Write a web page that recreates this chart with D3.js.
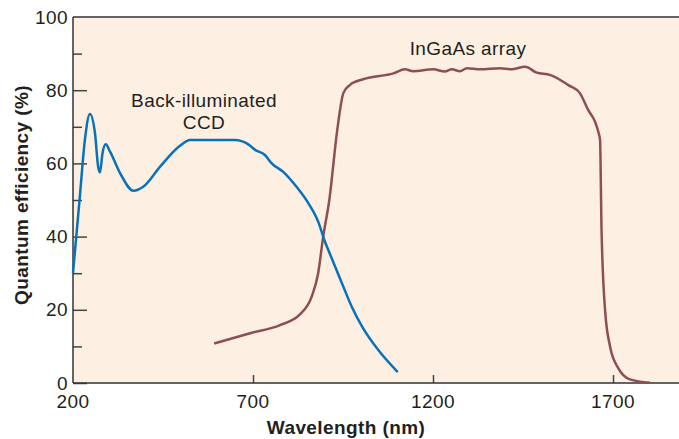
<!DOCTYPE html>
<html lang="en">
<head>
<meta charset="UTF-8">
<title>Quantum efficiency</title>
<style>
  body { margin: 0; background: #fff; }
  text { font-family: "Liberation Sans", Arial, sans-serif; fill: #231f20; letter-spacing: 0.4px; }
</style>
</head>
<body>
<div id="chart"></div>
<script src="https://d3js.org/d3.v7.min.js"></script>
<script>
// Back-illuminated CCD curve (wavelength nm, QE %)
var ccdNm = [200, 219, 233, 247, 261, 270, 275, 282, 291, 303, 331, 368, 395, 442, 497, 525, 650, 687, 706, 733, 752, 784, 821, 854, 881, 900, 914, 951, 974, 1006, 1048, 1102];
var ccdQe = [30, 50.9, 66.4, 73.5, 68.3, 59, 57.5, 62.8, 65.2, 63.2, 57.3, 52.5, 53.6, 59.1, 64.8, 66.4, 66.4, 65.2, 63.7, 62.3, 60, 57.7, 53.6, 49.1, 44.1, 38.6, 35.2, 26.3, 20.9, 14.9, 9, 3];

// InGaAs array curve
var ingaasNm = [592, 692, 775, 831, 863, 881, 895, 912, 934, 951, 969, 1006, 1090, 1122, 1145, 1201, 1233, 1252, 1275, 1294, 1331, 1386, 1418, 1456, 1488, 1525, 1576, 1608, 1631, 1650, 1659, 1664, 1668, 1678, 1692, 1715, 1747, 1803];
var ingaasQe = [10.8, 13.6, 15.8, 18.8, 23.6, 30, 40, 50, 69.1, 79.2, 81.4, 83, 84.6, 85.7, 85.2, 85.7, 85.1, 85.7, 85.2, 86, 85.7, 86, 85.7, 86.4, 84.8, 84.2, 81.4, 79.2, 74.6, 71.4, 68.7, 66.4, 42.7, 19.9, 9.9, 4, 1, 0.1];

var xTicks = [200, 700, 1200, 1700];
var yTicks = [0, 20, 40, 60, 80, 100];
var yMinor = [10, 30, 50, 70, 90];

var W = 679, H = 439;
var plot = {left: 73, right: 679, top: 17, bottom: 383};

var svg = d3.select("#chart").append("svg")
    .attr("width", W).attr("height", H);

var x = d3.scaleLinear().domain([200, 200 + (plot.right - plot.left) / 0.36]).range([plot.left, plot.right]);
var y = d3.scaleLinear().domain([0, 100]).range([plot.bottom, plot.top]);

// plot background
svg.append("rect")
    .attr("x", plot.left).attr("y", plot.top)
    .attr("width", plot.right - plot.left).attr("height", plot.bottom - plot.top)
    .attr("fill", "#fdf0e2");

// top border
svg.append("line")
    .attr("x1", plot.left).attr("x2", plot.right).attr("y1", plot.top).attr("y2", plot.top)
    .attr("stroke", "#333").attr("stroke-width", 1.5);

// y axis (ticks point inward)
var yAxis = svg.append("g")
    .attr("transform", "translate(" + plot.left + ",0)")
    .call(d3.axisRight(y).tickValues(yTicks.filter(d => d < 100)).tickSize(14).tickFormat(""));
yAxis.select(".domain").remove();
yAxis.selectAll("line").attr("stroke", "#444").attr("stroke-width", 1.5);

var yMin = svg.append("g")
    .attr("transform", "translate(" + plot.left + ",0)")
    .call(d3.axisRight(y).tickValues(yMinor).tickSize(9).tickFormat(""));
yMin.select(".domain").remove();
yMin.selectAll("line").attr("stroke", "#444").attr("stroke-width", 1.5);

svg.selectAll(".ylab").data(yTicks).enter().append("text")
    .attr("x", plot.left - 5).attr("y", d => y(d))
    .attr("dy", "0.35em").attr("text-anchor", "end")
    .attr("font-size", 19).text(d => d);

// x axis (ticks point up)
var xAxis = svg.append("g")
    .attr("transform", "translate(0," + plot.bottom + ")")
    .call(d3.axisTop(x).tickValues(xTicks.slice(1)).tickSize(8).tickFormat(""));
xAxis.select(".domain").remove();
xAxis.selectAll("line").attr("stroke", "#444").attr("stroke-width", 1.5);

svg.selectAll(".xlab").data(xTicks).enter().append("text")
    .attr("x", d => x(d)).attr("y", plot.bottom + 18)
    .attr("dy", "0.35em").attr("text-anchor", "middle")
    .attr("font-size", 19).text(d => d);

// axis lines
svg.append("line")
    .attr("x1", plot.left).attr("x2", plot.left).attr("y1", plot.top).attr("y2", plot.bottom)
    .attr("stroke", "#333").attr("stroke-width", 1.5);
svg.append("line")
    .attr("x1", plot.left).attr("x2", plot.right).attr("y1", plot.bottom).attr("y2", plot.bottom)
    .attr("stroke", "#333").attr("stroke-width", 1.5);

// curves
var line = d3.line()
    .x(d => x(d[0])).y(d => y(d[1]))
    .curve(d3.curveMonotoneX);

svg.append("path")
    .datum(d3.zip(ingaasNm, ingaasQe))
    .attr("d", line)
    .attr("fill", "none").attr("stroke", "#8e4f51").attr("stroke-width", 2.5);

svg.append("path")
    .datum(d3.zip(ccdNm, ccdQe))
    .attr("d", line)
    .attr("fill", "none").attr("stroke", "#0871bb").attr("stroke-width", 2.5);

// annotations
svg.append("text").attr("x", 204).attr("y", 100).attr("dy", "0.35em")
    .attr("text-anchor", "middle").attr("font-size", 19).text("Back-illuminated");
svg.append("text").attr("x", 204).attr("y", 122).attr("dy", "0.35em")
    .attr("text-anchor", "middle").attr("font-size", 19).text("CCD");
svg.append("text").attr("x", 468).attr("y", 48).attr("dy", "0.35em")
    .attr("text-anchor", "middle").attr("font-size", 19).text("InGaAs array");

// axis titles
svg.append("text").attr("x", 346).attr("y", 427).attr("dy", "0.35em")
    .attr("text-anchor", "middle").attr("font-size", 19).attr("font-weight", "bold")
    .text("Wavelength (nm)");
svg.append("text")
    .attr("transform", "translate(21,195) rotate(-90)")
    .attr("dy", "0.35em").attr("text-anchor", "middle")
    .attr("font-size", 19).attr("font-weight", "bold")
    .text("Quantum efficiency (%)");
</script>
</body>
</html>
